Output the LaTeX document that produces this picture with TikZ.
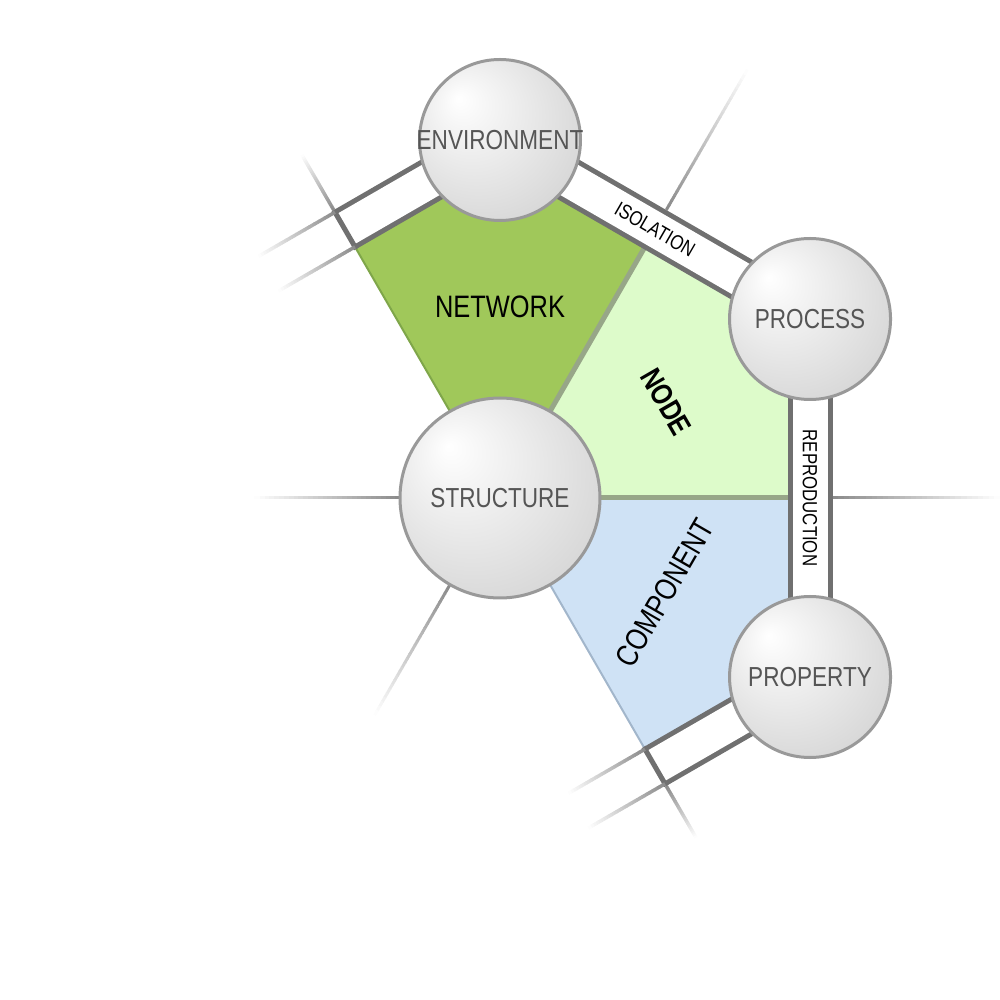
\documentclass[tikz,border=0pt]{standalone}
\usepackage{fontspec}
\setmainfont{Liberation Sans}[FakeStretch=0.82]
\usetikzlibrary{calc}
\definecolor{bandc}{HTML}{707070}
\definecolor{ringc}{HTML}{999999}
\definecolor{labc}{HTML}{555555}
\definecolor{netc}{HTML}{A0C85A}
\definecolor{nodec}{HTML}{DDFBCA}
\definecolor{compc}{HTML}{CFE2F5}
\definecolor{sepc}{HTML}{97A688}
\definecolor{netedge}{HTML}{7FA64A}
\definecolor{compedge}{HTML}{A2B6CB}
\definecolor{fadec}{HTML}{8A8A8A}
\pgfdeclareradialshading{sph}{\pgfpoint{-13bp}{13bp}}{color(0bp)=(white); color(8bp)=(white!96!black); color(50bp)=(black!24)}
\pgfdeclarelayer{bg}
\pgfsetlayers{bg,main}
\newcommand\fadeline[3]{%
  \foreach \k in {0,...,29}{%
    \pgfmathsetmacro\fa{\k/30}%
    \pgfmathsetmacro\fb{(\k+1.15)/30}%
    \pgfmathsetmacro\fv{100*(1-(\k+0.5)/30)}%
    \draw[line width=#3, draw=fadec!\fv!white] ($(#1)!\fa!(#2)$) -- ($(#1)!\fb!(#2)$);
  }}
\tikzset{
  ball/.style={circle, shading=sph, draw=ringc, line width=3pt, inner sep=0pt},
  balltext/.style={inner sep=0pt, text=labc, font=\fontsize{27.5}{29}\selectfont},
  band/.style={line width=5pt, draw=bandc, double=white, double distance=35pt},
  crossseg/.style={line width=5pt, draw=bandc},
  biglab/.style={inner sep=0pt, text=black, font=\fontsize{31}{33}\selectfont},
  smalllab/.style={inner sep=0pt, text=black, font=\fontsize{20.5}{22}\selectfont},
}
\begin{document}
\begin{tikzpicture}[x=1pt,y=1pt]
\useasboundingbox (-500,-502) rectangle (500,498);
% circles
\node[ball, minimum size=200pt, label={[balltext]center:STRUCTURE}] (struct) at (0,0) {};
\node[ball, minimum size=161pt, label={[balltext]center:ENVIRONMENT}] (env) at (90:358) {};
\node[ball, minimum size=161pt, label={[balltext]center:PROCESS}] (proc) at (30:358) {};
\node[ball, minimum size=161pt, label={[balltext]center:PROPERTY}] (prop) at (-30:358) {};
% geometry
\coordinate (O) at (0,0);
\coordinate (n120) at (120:290);
\coordinate (n60) at (60:290);
\coordinate (n0) at (0:290);
\coordinate (n300) at (-60:290);
\coordinate (v90) at (90:334.86);
\coordinate (v30) at (30:334.86);
\coordinate (v330) at (-30:334.86);
\coordinate (m120) at (120:310);
\coordinate (m300) at (-60:310);
\coordinate (c120a) at (120:287.5);
\coordinate (c120b) at (120:332.5);
\coordinate (c300a) at (-60:287.5);
\coordinate (c300b) at (-60:332.5);
\coordinate (o120) at (120:330);
\coordinate (o300) at (-60:330);
\coordinate (e120i) at ($(n120)+(210:88)$);
\coordinate (e120o) at ($(o120)+(210:88)$);
\coordinate (e300i) at ($(n300)+(210:88)$);
\coordinate (e300o) at ($(o300)+(210:88)$);
\coordinate (r120) at (120:396);
\coordinate (r300) at (-60:392);
\coordinate (s60) at (60:332.5);
\coordinate (r60) at (60:494);
\coordinate (s0) at (0:332.5);
\coordinate (r0) at (0:500);
\coordinate (s180) at (180:100);
\coordinate (r180) at (180:245);
\coordinate (s240) at (240:100);
\coordinate (r240) at (240:250);
\begin{pgfonlayer}{bg}
  \fill[netc] (O) -- (n120) -- (v90) -- (n60) -- cycle;
  \fill[nodec] (O) -- (n60) -- (v30) -- (n0) -- cycle;
  \fill[compc] (O) -- (n0) -- (v330) -- (n300) -- cycle;
  \draw[netedge, line width=2pt] (O) -- (n120);
  \draw[compedge, line width=2pt] (O) -- (n300);
  \draw[sepc, line width=5pt] (O) -- (n60);
  \draw[sepc, line width=5pt] (O) -- (n0);
  \draw[band] (env.center) -- (proc.center);
  \draw[band] (proc.center) -- (prop.center);
  \draw[band] (env.center) -- (m120);
  \draw[band] (prop.center) -- (m300);
  \draw[crossseg] (c120a) -- (c120b);
  \draw[crossseg] (c300a) -- (c300b);
  \fadeline{n120}{e120i}{3.5pt}
  \fadeline{o120}{e120o}{3.5pt}
  \fadeline{n300}{e300i}{3.5pt}
  \fadeline{o300}{e300o}{3.5pt}
  \fadeline{c120b}{r120}{3.5pt}
  \fadeline{c300b}{r300}{3.5pt}
  \fadeline{s60}{r60}{3pt}
  \fadeline{s0}{r0}{3pt}
  \fadeline{s180}{r180}{3pt}
  \fadeline{s240}{r240}{3pt}
\end{pgfonlayer}
% labels
\node[biglab] (netlab) at (90:191) {NETWORK};
\node[biglab, font=\fontsize{30}{32}\selectfont\bfseries, rotate=-60] (nodelab) at (30:192) {NODE};
\node[biglab, rotate=60] (complab) at (-30:190) {COMPONENT};
\node[smalllab, rotate=-30] (isolab) at ($(env.center)!0.5!(proc.center)$) {ISOLATION};
\node[smalllab, rotate=-90] (replab) at ($(proc.center)!0.5!(prop.center)$) {REPRODUCTION};
\end{tikzpicture}
\end{document}
